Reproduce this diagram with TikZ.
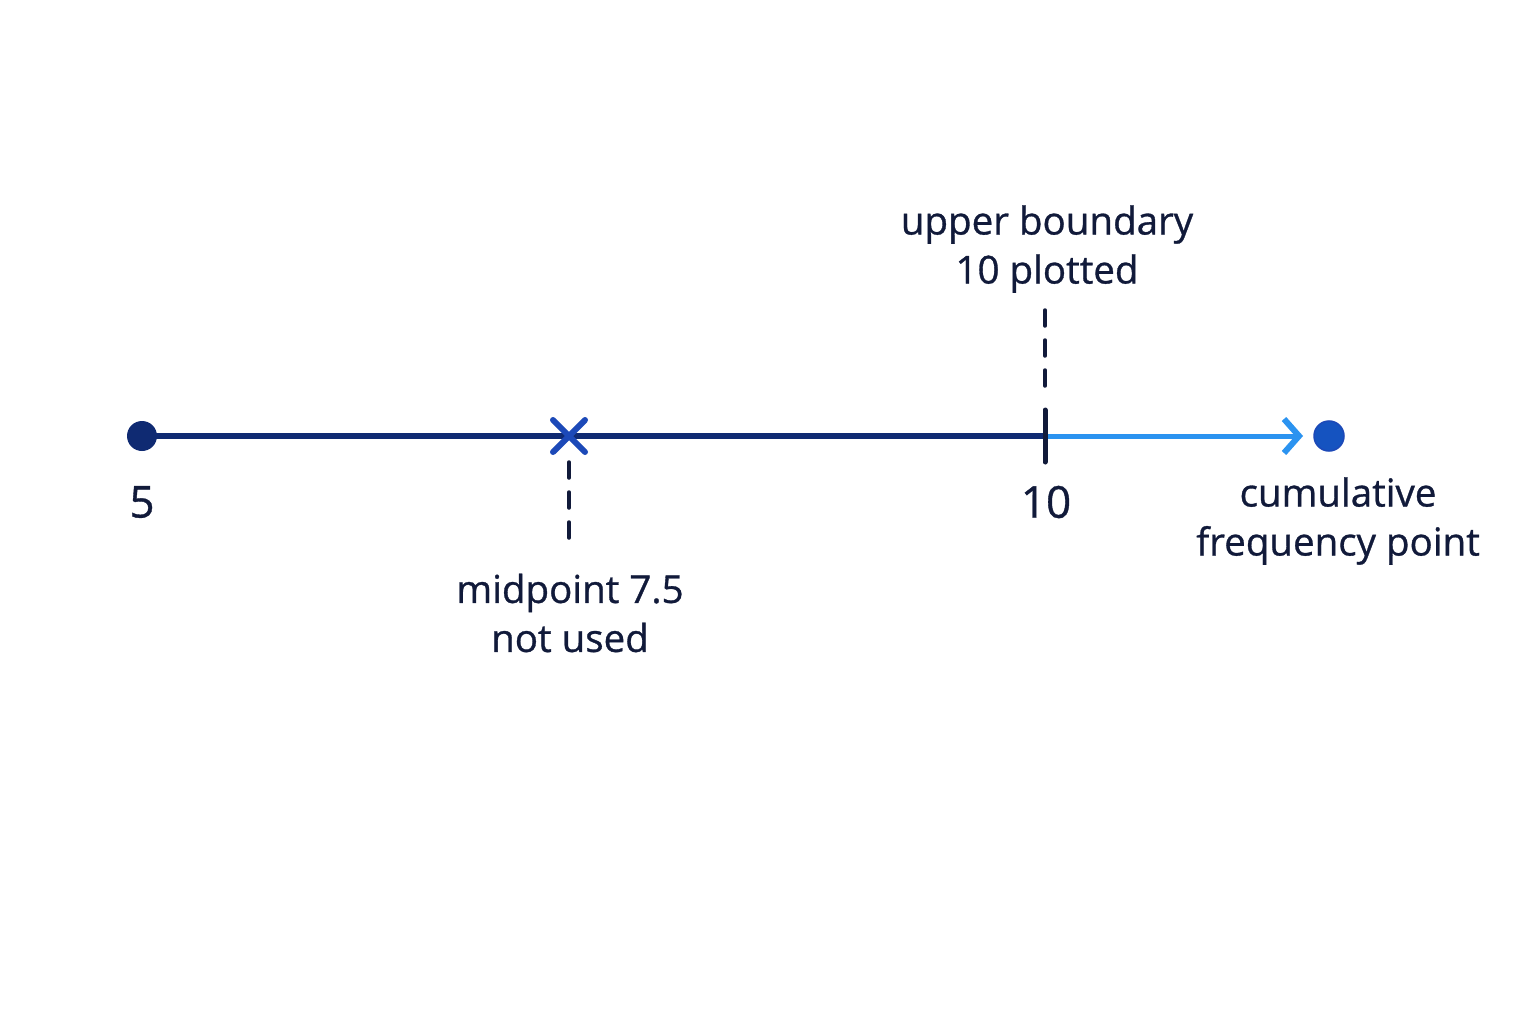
\documentclass[tikz,border=0pt]{standalone}
\usepackage{fontspec}
\setmainfont{Open Sans}[FakeBold=0.8,BoldFont=Open Sans]
\usetikzlibrary{arrows.meta}
\definecolor{navy}{HTML}{0F2A72}
\definecolor{ink}{HTML}{111A3A}
\definecolor{crossblue}{HTML}{1C49B8}
\definecolor{arrowblue}{HTML}{2B93F0}
\definecolor{dotblue}{HTML}{1553C0}
\tikzset{
  lbl/.style={text=ink, font=\fontsize{38.5}{49}\selectfont\bfseries, align=center, inner sep=0pt},
  num/.style={text=ink, font=\fontsize{44}{48}\selectfont\bfseries, inner sep=0pt},
  guide/.style={draw=ink, line width=3.5pt, dash pattern=on 16pt off 14pt, line cap=round},
  axis/.style={draw=navy, line width=5.5pt},
}
\begin{document}
\begin{tikzpicture}[x=1pt,y=-1pt]
\useasboundingbox[fill=white] (0,0) rectangle (1536,1024);
\coordinate (a) at (142,436);
\coordinate (x) at (569,436);
\coordinate (t) at (1045,436);
\coordinate (e) at (1303,436);
\coordinate (tt) at (1045,410);
\coordinate (tb) at (1045,462);
\coordinate (gu1) at (1045,310);
\coordinate (gu2) at (1045,400);
\coordinate (gm1) at (569,462);
\coordinate (gm2) at (569,545);
\draw[axis] (a) -- (t);
\draw[draw=arrowblue, line width=5pt, -{Straight Barb[length=15pt,width=34pt,line width=6pt]}] (t) -- (e);
\draw[draw=ink, line width=5pt, line cap=round] (tt) -- (tb);
\draw[guide] (gu1) -- (gu2);
\draw[guide] (gm1) -- (gm2);
\draw[draw=crossblue, line width=6pt, line cap=round] (553,420) -- (585,452) (553,452) -- (585,420);
\node[circle, fill=navy, minimum size=30pt, inner sep=0pt] (d1) at (a) {};
\node[circle, fill=dotblue, draw=crossblue, line width=1.5pt, minimum size=30pt, inner sep=0pt] (d2) at (1329,436) {};
\node[num] (n5) at (142,502) {5};
\node[num] (n10) at (1046,502) {10};
\node[lbl] (mid) at (570,613) {midpoint 7.5\\not used};
\node[lbl] (up) at (1047,249) {upper boundary\\10 plotted};
\node[lbl] (cf) at (1338,521) {cumulative\\frequency point};
\end{tikzpicture}
\end{document}
